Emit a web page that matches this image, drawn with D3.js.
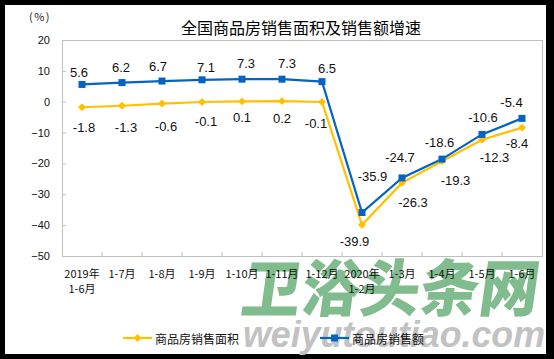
<!DOCTYPE html>
<html><head><meta charset="utf-8">
<script src="https://cdn.jsdelivr.net/npm/d3@7"></script>
<style>html,body{margin:0;padding:0;background:#000;}svg{display:block;}</style>
</head><body>
<script>
// ---- data ----
const categories = ["2019年|1-6月","1-7月","1-8月","1-9月","1-10月","1-11月","1-12月","2020年|1-2月","1-3月","1-4月","1-5月","1-6月"];
const areaGrowth  = [-1.8,-1.3,-0.6,-0.1,0.1,0.2,-0.1,-39.9,-26.3,-19.3,-12.3,-8.4];
const salesGrowth = [5.6,6.2,6.7,7.1,7.3,7.3,6.5,-35.9,-24.7,-18.6,-10.6,-5.4];
const yTicks = [20,10,0,-10,-20,-30,-40,-50];
const seriesNames = ["商品房销售面积","商品房销售额"];
const title = "全国商品房销售面积及销售额增速";

// ---- label layout nudges (px) ----
const nudgeArea  = [[2,20],[4,22],[4,23],[4,19.5],[0,16],[0,17],[-6,21],[-7.5,17],[11,20],[13.5,19],[12.5,18],[-5,16]];
const nudgeSales = [[-3,-12],[-1,-15.5],[-4,-15],[4,-12.5],[4,-16],[5,-16],[5,-13.5],[10.5,-35.5],[-2,-20],[-2.5,-16.5],[1,-17],[-10.5,-15.5]];

const W=554,H=359;
const svg=d3.select("body").append("svg").attr("width",W).attr("height",H);
svg.append("rect").attr("width",W).attr("height",H).attr("fill","#000");
svg.append("rect").attr("x",5).attr("y",5).attr("width",541).attr("height",349).attr("fill","#fff");

const L=62,R=542,T=40,B=256;
const x=d3.scaleBand().domain(categories).range([L,R]);
const cx=c=>x(c)+x.bandwidth()/2;
const y=d3.scaleLinear().domain([-50,20]).range([B,T]);

// watermark
const wm=svg.append("g");
wm.append("text").attr("x",243).attr("y",284).attr("dominant-baseline","central")
  .attr("transform","skewX(-8) translate(40,0)")
  .attr("font-family","Noto Sans CJK SC").attr("font-weight",900).attr("font-size",62)
  .attr("fill","#80bc8d").attr("textLength",297).attr("lengthAdjust","spacingAndGlyphs").text("卫浴头条网");
wm.append("text").attr("x",243).attr("y",347)
  .attr("font-family","Liberation Sans").attr("font-style","italic").attr("font-weight","bold").attr("font-size",37)
  .attr("fill","#c2c2c2").attr("textLength",302).attr("lengthAdjust","spacingAndGlyphs").text("weiyutoutiao.com");

// title
svg.append("text").attr("x",301).attr("y",27).attr("text-anchor","middle").attr("dominant-baseline","central")
  .attr("font-family","Noto Sans CJK SC").attr("font-size",16).attr("fill","#000").text(title);
svg.append("text").attr("x",40).attr("y",16).attr("text-anchor","middle").attr("dominant-baseline","central")
  .attr("font-family","Noto Sans CJK SC").attr("font-size",11).attr("letter-spacing",1.5).attr("fill","#222").text("(%)");

// plot border
svg.append("rect").attr("x",L).attr("y",T).attr("width",R-L).attr("height",B-T)
  .attr("fill","none").attr("stroke","#bfbfbf").attr("stroke-width",1).attr("shape-rendering","crispEdges");

// y axis
const yAxis=d3.axisLeft(y).tickValues(yTicks).tickSize(-4).tickPadding(12).tickFormat(d3.format("d"));
const gy=svg.append("g").attr("transform",`translate(${L},0)`).call(yAxis);
gy.select(".domain").attr("stroke","#bfbfbf");
gy.selectAll(".tick line").attr("stroke","#bfbfbf");
gy.selectAll(".tick text").attr("font-family","Liberation Sans").attr("font-size",11).attr("fill","#111").attr("x",-12);

// x axis: ticks at band boundaries
const xAxis=d3.axisBottom(x).tickSize(0).tickFormat("");
const gx=svg.append("g").attr("transform",`translate(0,${B})`).call(xAxis);
gx.select(".domain").attr("stroke","#bfbfbf");
gx.selectAll(".bnd").data(categories.slice(1)).enter().append("line")
  .attr("x1",c=>x(c)).attr("x2",c=>x(c)).attr("y1",0).attr("y2",-4).attr("stroke","#bfbfbf");
categories.forEach(c=>{
  const parts=c.split("|");
  const t=svg.append("text").attr("text-anchor","middle").attr("font-family","Noto Sans CJK SC").attr("font-size",11).attr("fill","#111");
  parts.forEach((p,i)=>t.append("tspan").attr("x",cx(c)).attr("y",278+i*15).text(p));
});

// lines
const line=d3.line().x((d,i)=>cx(categories[i])).y(d=>y(d));
const yellow="#ffc000", blue="#0563c1";
svg.append("path").datum(areaGrowth).attr("d",line).attr("fill","none").attr("stroke",yellow).attr("stroke-width",2.2);
svg.append("path").datum(salesGrowth).attr("d",line).attr("fill","none").attr("stroke",blue).attr("stroke-width",2.2);
const diamond=d3.symbol().type(d3.symbolDiamond2).size(40);
svg.selectAll(".ma").data(areaGrowth).enter().append("path")
  .attr("d",diamond).attr("transform",(d,i)=>`translate(${cx(categories[i])},${y(d)})`).attr("fill",yellow);
svg.selectAll(".mb").data(salesGrowth).enter().append("rect")
  .attr("x",(d,i)=>cx(categories[i])-3.5).attr("y",d=>y(d)-3.5).attr("width",7).attr("height",7).attr("fill",blue);

// labels
const fmt=d=>d.toFixed(1);
function labels(arr,nudge){
  svg.selectAll(null).data(arr).enter().append("text")
    .attr("x",(d,i)=>cx(categories[i])+nudge[i][0]).attr("y",(d,i)=>y(d)+nudge[i][1])
    .attr("text-anchor","middle").attr("dominant-baseline","central")
    .attr("font-family","Liberation Sans").attr("font-size",13).attr("fill","#111").text(fmt);
}
labels(areaGrowth,nudgeArea);
labels(salesGrowth,nudgeSales);

// legend
const lg=[{x1:123,x2:152,c:yellow,n:seriesNames[0],m:"d"},{x1:320,x2:349,c:blue,n:seriesNames[1],m:"s"}];
lg.forEach(l=>{
  svg.append("line").attr("x1",l.x1).attr("x2",l.x2).attr("y1",338).attr("y2",338).attr("stroke",l.c).attr("stroke-width",2.2);
  const mx=(l.x1+l.x2)/2;
  if(l.m==="d") svg.append("path").attr("d",diamond).attr("transform",`translate(${mx},338)`).attr("fill",l.c);
  else svg.append("rect").attr("x",mx-3.5).attr("y",334.5).attr("width",7).attr("height",7).attr("fill",l.c);
  svg.append("text").attr("x",l.x2+3).attr("y",338).attr("dominant-baseline","central")
    .attr("font-family","Noto Sans CJK SC").attr("font-size",12).attr("fill","#111").text(l.n);
});
</script>
</body></html>
